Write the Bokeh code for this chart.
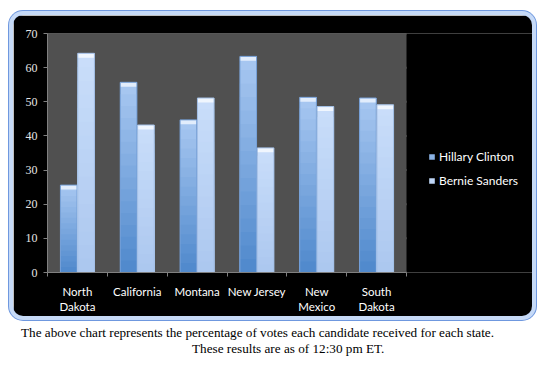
from bokeh.plotting import figure
from bokeh.models import Range1d, FixedTicker, Legend, LegendItem, Div, ColumnDataSource, BoxAnnotation
from bokeh.layouts import column
from bokeh.embed import file_html
from bokeh.resources import INLINE

# ---- data ----
states = ["North Dakota", "California", "Montana", "New Jersey", "New Mexico", "South Dakota"]
state_labels = ["North\nDakota", "California", "Montana", "New Jersey", "New\nMexico", "South\nDakota"]
clinton = [25.6, 55.7, 44.7, 63.3, 51.3, 51.1]
sanders = [64.2, 43.2, 51.1, 36.5, 48.6, 49.1]
series_names = ["Hillary Clinton", "Bernie Sanders"]
y_ticks = [0, 10, 20, 30, 40, 50, 60, 70]
caption_1 = "The above chart represents the percentage of votes each candidate received for each state."
caption_2 = "These results are as of 12:30 pm ET."

# ---- styling ----
BAR_W = 0.278
OFFSETS = [-0.145, 0.145]
GRAD = [("#4e88cc", "#a9c8f1"), ("#abc7ef", "#cadefa")]
EDGE = ["#76a0d8", "#a2bfe6"]
BEVEL = ["#e2edfc", "#f0f6fe"]
N = 16
FIG_W, FIG_H = 519, 301
LEFT, TOP, BOTTOM = 34, 18, 43
PLOT_PX = 359          # width of the grey plot area in pixels
FRAME_PX = FIG_W - LEFT
ncat = len(states)
x_end = ncat * FRAME_PX / PLOT_PX


def mix(c1, c2, t):
    a = [int(c1[i:i + 2], 16) for i in (1, 3, 5)]
    b = [int(c2[i:i + 2], 16) for i in (1, 3, 5)]
    return "#%02x%02x%02x" % tuple(round(a[j] + (b[j] - a[j]) * t) for j in range(3))


p = figure(width=FIG_W, height=FIG_H, x_range=Range1d(0, x_end), y_range=Range1d(0, y_ticks[-1]),
           output_backend="svg", toolbar_location=None, title=None,
           background_fill_color="black", border_fill_color="black",
           outline_line_color=None, min_border_left=LEFT, min_border_right=0,
           min_border_top=TOP, min_border_bottom=BOTTOM)
p.margin = (15, 0, 0, 13)
p.styles = {"border-radius": "10px", "overflow": "hidden",
            "box-shadow": "0 0 0 4px #c6daf7, 0 0 0 5px #6f98df"}

# grey plot area + grid lines limited to the category span
p.add_layout(BoxAnnotation(left=0, right=ncat, bottom=0, top=y_ticks[-1],
                           fill_color="#505050", fill_alpha=1, line_color=None, level="underlay"))
p.segment(x0=[0] * len(y_ticks), x1=[ncat] * len(y_ticks), y0=y_ticks, y1=y_ticks,
          line_color="#767676", line_width=2, level="underlay")

legend_items = []
for s, vals in enumerate([clinton, sanders]):
    xs = [i + 0.5 + OFFSETS[s] for i in range(ncat)]
    band_renderers = []
    for k in range(N, 0, -1):
        t = (k - 0.5) / N
        src = ColumnDataSource(dict(x=xs, top=[v * k / N for v in vals]))
        r = p.vbar(x="x", top="top", bottom=0, width=BAR_W, source=src,
                   fill_color=mix(GRAD[s][0], GRAD[s][1], t), line_color=None)
        band_renderers.append(r)
    # top bevel
    bsrc = ColumnDataSource(dict(x=xs, top=vals, bottom=[v - 1.3 for v in vals]))
    p.vbar(x="x", top="top", bottom="bottom", width=BAR_W, source=bsrc,
           fill_color=BEVEL[s], line_color=None)
    osrc = ColumnDataSource(dict(x=xs, top=vals))
    p.vbar(x="x", top="top", bottom=0, width=BAR_W, source=osrc,
           fill_alpha=0, line_color=EDGE[s], line_width=1)
    legend_items.append(LegendItem(label=series_names[s], renderers=[band_renderers[N // 3]]))

p.xgrid.visible = False
p.ygrid.visible = False

# y axis
p.yaxis.ticker = FixedTicker(ticks=y_ticks, minor_ticks=[])
p.yaxis.axis_line_color = "#808080"
p.yaxis.major_tick_line_color = "#808080"
p.yaxis.major_tick_out = 4
p.yaxis.major_tick_in = 0
p.yaxis.major_label_standoff = 6
p.yaxis.major_label_text_color = "#e6e6e6"
p.yaxis.major_label_text_font = "Liberation Serif"
p.yaxis.major_label_text_font_size = "12px"

# x axis
p.xaxis.bounds = (0, ncat)
p.xaxis.ticker = FixedTicker(ticks=[i + 0.5 for i in range(ncat)],
                             minor_ticks=list(range(ncat + 1)))
p.xaxis.major_label_overrides = {i + 0.5: state_labels[i] for i in range(ncat)}
p.xaxis.axis_line_color = "#808080"
p.xaxis.major_tick_line_color = None
p.xaxis.major_tick_out = 0
p.xaxis.minor_tick_line_color = "#808080"
p.xaxis.minor_tick_out = 4
p.xaxis.minor_tick_in = 0
p.xaxis.major_label_standoff = 8
p.xaxis.major_label_text_color = "white"
p.xaxis.major_label_text_font = "Lato"
p.xaxis.major_label_text_font_size = "11.5px"
p.xaxis.major_label_text_line_height = 1.2

legend = Legend(items=legend_items, location=(PLOT_PX + 22, 84), orientation="vertical",
                background_fill_color="black", background_fill_alpha=0,
                border_line_color=None, label_text_color="white",
                label_text_font="Lato", label_text_font_size="12px",
                glyph_width=7, glyph_height=7, label_standoff=4,
                spacing=9, padding=0, margin=0, label_height=15)
p.add_layout(legend, "center")

cap = Div(text=(
    '<div style="font-family:\'Liberation Serif\';font-size:13.2px;line-height:16px;color:black;white-space:nowrap;">'
    f'<div style="padding-left:21px">{caption_1}</div>'
    f'<div style="padding-left:192px">{caption_2}</div></div>'),
    width=530, height=34)
cap.margin = (9, 0, 0, 0)

layout = column(p, cap)
open("out.html", "w").write(file_html(layout, INLINE))
